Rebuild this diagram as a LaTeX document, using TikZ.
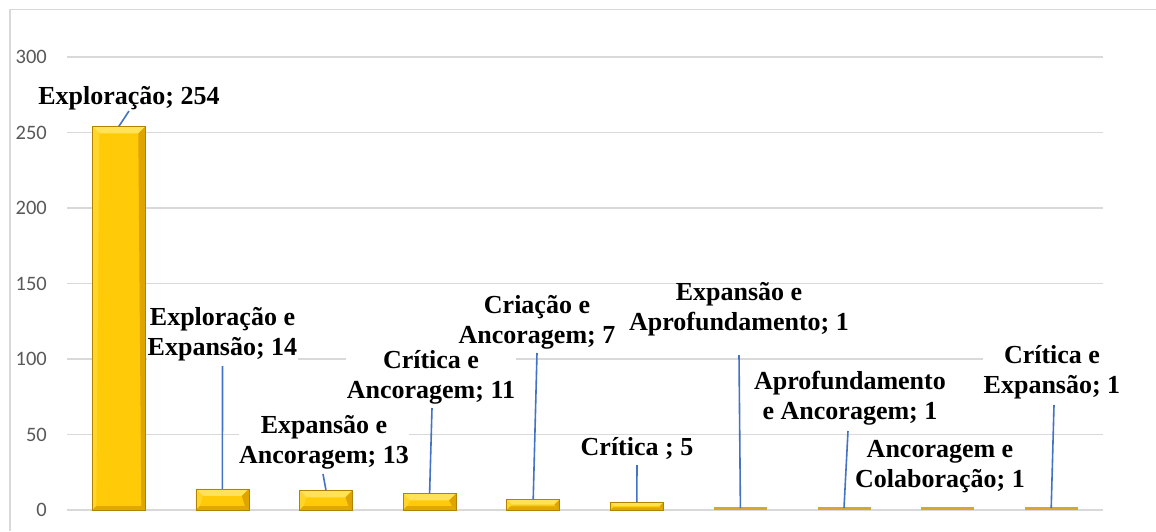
\documentclass[tikz,border=0pt]{standalone}
\usepackage{fontspec}
\setmainfont{Liberation Serif}
\newfontfamily\axisfont{Carlito}
\definecolor{gridgray}{HTML}{D9D9D9}
\definecolor{axisgray}{HTML}{595959}
\definecolor{leaderblue}{HTML}{4472C4}
\definecolor{barface}{HTML}{FFCA08}
\definecolor{bartop}{HTML}{FFE257}
\definecolor{barleft}{HTML}{FFD52A}
\definecolor{barright}{HTML}{DFA400}
\definecolor{barbottom}{HTML}{E0A800}
\definecolor{baredge}{HTML}{B08300}
\definecolor{thinbar}{HTML}{D9A82A}
\begin{document}
\begin{tikzpicture}[x=1pt,y=-1pt,
  grid/.style={draw=gridgray, line width=1.3pt},
  frame/.style={draw=gridgray, line width=1.1pt},
  lbl/.style={font=\fontsize{26}{30.5}\selectfont\bfseries, align=center, anchor=base, fill=white, inner sep=0.5pt},
  ax/.style={font=\axisfont\fontsize{20.5}{24}\selectfont, text=axisgray, anchor=east, inner sep=0pt},
  leader/.style={draw=leaderblue, line width=1.6pt}]
\useasboundingbox (0,0) rectangle (1156,531);
\fill[white] (0,0) rectangle (1156,531);
\draw[frame] (10,531) -- (10,9.5) -- (1156,9.5);
% gridlines and axis labels
\foreach \k in {0,...,6}{
  \pgfmathsetmacro{\gy}{510-75.5*\k}
  \pgfmathtruncatemacro{\gv}{50*\k}
  \draw[grid] (67,\gy) -- (1103,\gy);
  \node[ax] (ax\k) at (47,\gy) {\gv};
}
% bevelled bars
\foreach \i/\v in {1/254,2/14,3/13,4/11,5/7,6/5}{
  \pgfmathsetmacro{\xc}{67+103.6*(\i-0.5)}
  \pgfmathsetmacro{\L}{\xc-26.5}
  \pgfmathsetmacro{\R}{\xc+26.5}
  \pgfmathsetmacro{\T}{510-1.51*\v}
  \pgfmathsetmacro{\B}{510}
  \pgfmathsetmacro{\bv}{min(7,(\B-\T)/2)}
  \pgfmathsetmacro{\bb}{min(4,(\B-\T)/3)}
  \fill[barface] (\L,\T) rectangle (\R,\B);
  \fill[bartop] (\L,\T) -- (\R,\T) -- (\R-\bv,\T+\bv) -- (\L+\bv,\T+\bv) -- cycle;
  \fill[barleft] (\L,\T) -- (\L+\bv,\T+\bv) -- (\L+\bb,\B-\bb) -- (\L,\B) -- cycle;
  \fill[barright] (\R,\T) -- (\R-\bv,\T+\bv) -- (\R-\bb,\B-\bb) -- (\R,\B) -- cycle;
  \fill[barbottom] (\L,\B) -- (\L+\bb,\B-\bb) -- (\R-\bb,\B-\bb) -- (\R,\B) -- cycle;
  \draw[baredge, line width=0.7pt] (\L,\T) rectangle (\R,\B);
  \coordinate (b\i) at (\xc,\T);
}
\foreach \i in {7,8,9,10}{
  \pgfmathsetmacro{\xc}{67+103.6*(\i-0.5)}
  \fill[thinbar] (\xc-26.5,507.3) rectangle (\xc+26.5,510.3);
  \coordinate (b\i) at (\xc,508);
}
% labels (anchor = baseline of the last line)
\node[lbl] (l1) at (129,104) {Exploração; 254};
\node[lbl] (l2) at (222.5,355.5) {Exploração e\\Expansão; 14};
\node[lbl] (l3) at (324,463.5) {Expansão e\\Ancoragem; 13};
\node[lbl] (l4) at (431,398.5) {Crítica e\\Ancoragem; 11};
\node[lbl] (l5) at (537,343.5) {Criação e\\Ancoragem; 7};
\node[lbl] (l6) at (637,455) {Crítica ; 5};
\node[lbl, fill=none] (l7) at (739,330.5) {Expansão e\\Aprofundamento; 1};
\node[lbl] (l8) at (850,419.5) {Aprofundamento\\e Ancoragem; 1};
\node[lbl] (l9) at (940,487.5) {Ancoragem e\\Colaboração; 1};
\node[lbl] (l10) at (1052,393.5) {Crítica e\\Expansão; 1};
% leader lines
\coordinate (t1) at (129,111);
\coordinate (t2) at (222.5,366);
\coordinate (t3) at (323,474);
\coordinate (t4) at (432,408);
\coordinate (t5) at (537,353);
\coordinate (t6) at (637,465);
\coordinate (t7) at (739,355);
\coordinate (t8) at (848,431);
\coordinate (t10) at (1054,405);
\foreach \i in {1,2,3,4,5,6,7,8,10}{
  \draw[leader] (t\i) -- (b\i);
}
\end{tikzpicture}
\end{document}
